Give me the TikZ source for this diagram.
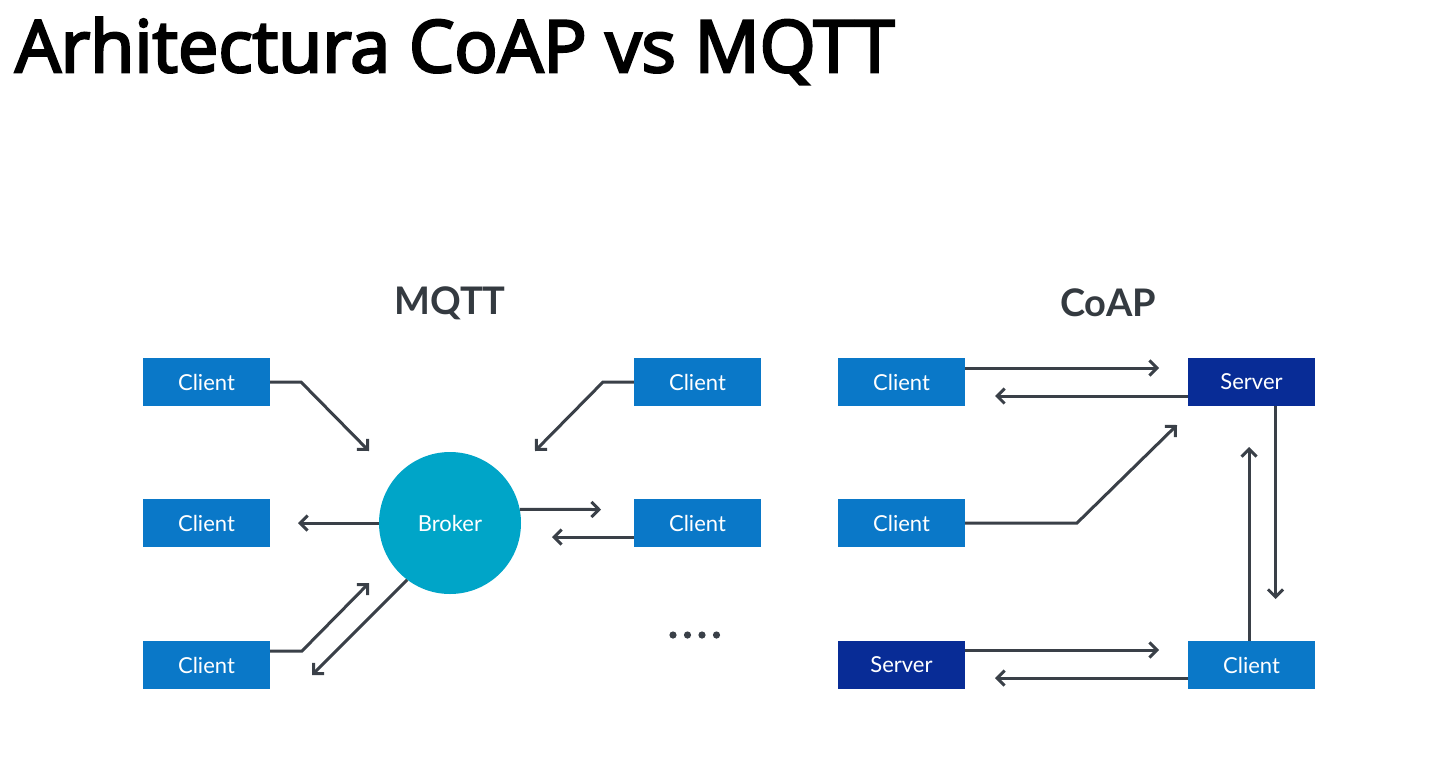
\documentclass[tikz,border=0pt]{standalone}
\usepackage{fontspec}
\usepackage{xcolor}
\usepackage{tikz}
\usetikzlibrary{arrows.meta,calc}
\setmainfont{Open Sans}
\newfontfamily\titlefont[FakeBold=3.5]{Open Sans}
\newfontfamily\labelfont{Lato}

\definecolor{clientblue}{RGB}{10,120,200}
\definecolor{serverblue}{RGB}{8,44,150}
\definecolor{brokercyan}{RGB}{0,165,200}
\definecolor{arrowgrey}{RGB}{58,64,72}
\definecolor{headgrey}{RGB}{52,58,64}

\tikzset{
  clientbox/.style={fill=clientblue,draw=none,minimum width=127pt,minimum height=48pt,inner sep=0pt,text=white,font=\labelfont\fontsize{22}{26}\selectfont},
  serverbox/.style={clientbox,fill=serverblue},
  brokerdot/.style={circle,fill=brokercyan,draw=none,minimum size=142pt,inner sep=0pt,text=white,font=\labelfont\fontsize{22}{26}\selectfont},
  heading/.style={text=headgrey,font=\labelfont\bfseries\fontsize{38}{44}\selectfont},
  link/.style={draw=arrowgrey,line width=3pt,line join=miter,-{Straight Barb[length=7.5pt,width=15pt,line width=3pt]}},
}

\begin{document}
\begin{tikzpicture}[x=1pt,y=1pt,yscale=-1,xscale=1]
	\useasboundingbox[fill=white] (0,0) rectangle (1446,772);

	% Title
	\node (title) [anchor=base west,inner sep=0pt,font=\titlefont\fontsize{72}{80}\selectfont] at (15,72) {Arhitectura CoAP vs MQTT};

	% Headings
	\node (hmqtt) [heading] at (450,303) {MQTT};
	\node (hcoap) [heading] at (1108,303) {CoAP};

	% MQTT side
	\node (broker) [brokerdot] at (450,523) {Broker};
	\node (mcA) [clientbox] at (206.5,382) {Client};
	\node (mcB) [clientbox] at (206.5,523) {Client};
	\node (mcC) [clientbox] at (206.5,665) {Client};
	\node (mcD) [clientbox] at (697.5,382) {Client};
	\node (mcE) [clientbox] at (697.5,523) {Client};

	% more clients
	\foreach \i [count=\k] in {673,687.5,702,716.5}
		\fill[arrowgrey] (\i,635) circle (3.6pt) node (dot\k) {};

	% CoAP side
	\node (ccA) [clientbox] at (901.5,382) {Client};
	\node (ccB) [clientbox] at (901.5,523) {Client};
	\node (csA) [serverbox] at (901.5,665) {Server};
	\node (csB) [serverbox] at (1251.5,382) {Server};
	\node (ccC) [clientbox] at (1251.5,665) {Client};

	% MQTT connectors
	\coordinate (kA) at (301,382);
	\coordinate (eA) at (369,451);
	\draw[link] (mcA.east) -- (kA) -- (eA);
	\coordinate (kD) at (603,382);
	\coordinate (eD) at (535,451);
	\draw[link] (mcD.west) -- (kD) -- (eD);
	\coordinate (eB) at (298,523);
	\draw[link] (broker.west) -- (eB);
	\coordinate (eE1) at (601,509.5);
	\draw[link] (broker.11) -- (eE1);
	\coordinate (eE2) at (552,537);
	\draw[link] ($(mcE.west)+(0,14)$) -- (eE2);
	\coordinate (kC) at (302,651);
	\coordinate (eC1) at (369,583);
	\draw[link] ($(mcC.east)+(0,-14)$) -- (kC) -- (eC1);
	\coordinate (eC2) at (312,675);
	\draw[link] (broker.233) -- (eC2);

	% CoAP connectors
	\coordinate (eS1) at (1159,368);
	\draw[link] ($(ccA.east)+(0,-14)$) -- (eS1);
	\coordinate (eS2) at (995,396);
	\draw[link] ($(csB.west)+(0,14)$) -- (eS2);
	\coordinate (kB) at (1077,523);
	\coordinate (eS3) at (1177,425);
	\draw[link] (ccB.east) -- (kB) -- (eS3);
	\coordinate (eS4) at (1275.5,599);
	\draw[link] ($(csB.south)+(24,0)$) -- (eS4);
	\coordinate (eS5) at (1249,447);
	\draw[link] ($(ccC.north)+(-2.5,0)$) -- (eS5);
	\coordinate (eS6) at (1159,650);
	\draw[link] ($(csA.east)+(0,-15)$) -- (eS6);
	\coordinate (eS7) at (995,678);
	\draw[link] ($(ccC.west)+(0,13)$) -- (eS7);

\end{tikzpicture}
\end{document}
